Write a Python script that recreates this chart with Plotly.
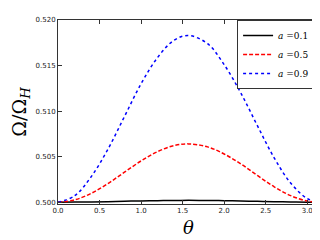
import plotly.graph_objects as go

theta = [0.0, 0.2, 0.4, 0.6, 0.8, 1.0, 1.2, 1.4, 1.5708, 1.8, 2.0, 2.2, 2.4, 2.6, 2.8, 3.0, 3.1416]
a01 = [0.5, 0.50001, 0.50003, 0.50006, 0.5001, 0.50014, 0.50017, 0.50019, 0.5002, 0.50019, 0.50017, 0.50013, 0.50009, 0.50005, 0.50002, 0.5, 0.5]
a05 = [0.5, 0.50025, 0.50097, 0.50204, 0.50329, 0.50453, 0.50556, 0.50622, 0.5064, 0.50607, 0.50529, 0.5042, 0.50293, 0.5017, 0.50072, 0.50013, 0.5]
a09 = [0.5, 0.5007, 0.5028, 0.5058, 0.5094, 0.513, 0.5159, 0.5178, 0.5183, 0.5174, 0.5151, 0.512, 0.5084, 0.5049, 0.5021, 0.5004, 0.5]
names = ["<i>a</i> =0.1", "<i>a</i> =0.5", "<i>a</i> =0.9"]
xticks = [0.0, 0.5, 1.0, 1.5, 2.0, 2.5, 3.0]
yticks = [0.500, 0.505, 0.510, 0.515, 0.520]

fig = go.Figure()
styles = [("black", "solid"), ("red", "4px,2px"), ("blue", "dot")]
for ys, nm, (c, d) in zip([a01, a05, a09], names, styles):
    fig.add_trace(go.Scatter(x=theta, y=ys, mode="lines", name=nm,
                             line=dict(color=c, dash=d, width=1.5, shape="spline")))

axis_common = dict(showline=True, linecolor="#333", linewidth=1, mirror="allticks",
                   ticks="inside", ticklen=4, tickcolor="#333", showgrid=False, zeroline=False,
                   tickfont=dict(family="DejaVu Sans", size=7, color="#222"))
fig.update_xaxes(range=[0, 3.14159], tickvals=xticks, ticktext=[f"{v:.1f}" for v in xticks],
                 title=dict(text="<i>θ</i>", font=dict(family="DejaVu Serif", size=18, color="black"), standoff=6),
                 **axis_common)
fig.update_yaxes(range=[0.4998, 0.520], tickvals=yticks, ticktext=[f"{v:.3f}" for v in yticks],
                 title=dict(text="Ω/Ω<sub><i>H</i></sub>", font=dict(family="DejaVu Serif", size=19, color="black"), standoff=4),
                 **axis_common)
fig.update_layout(width=320, height=240, margin=dict(l=50, r=8, t=10, b=44),
                  paper_bgcolor="white", plot_bgcolor="white",
                  legend=dict(x=0.985, y=1.0, xanchor="right", yanchor="top",
                              bordercolor="#333", borderwidth=1, bgcolor="white",
                              font=dict(family="DejaVu Serif", size=9, color="black"),
                              itemwidth=30, tracegroupgap=0))
fig.write_html("out.html")
